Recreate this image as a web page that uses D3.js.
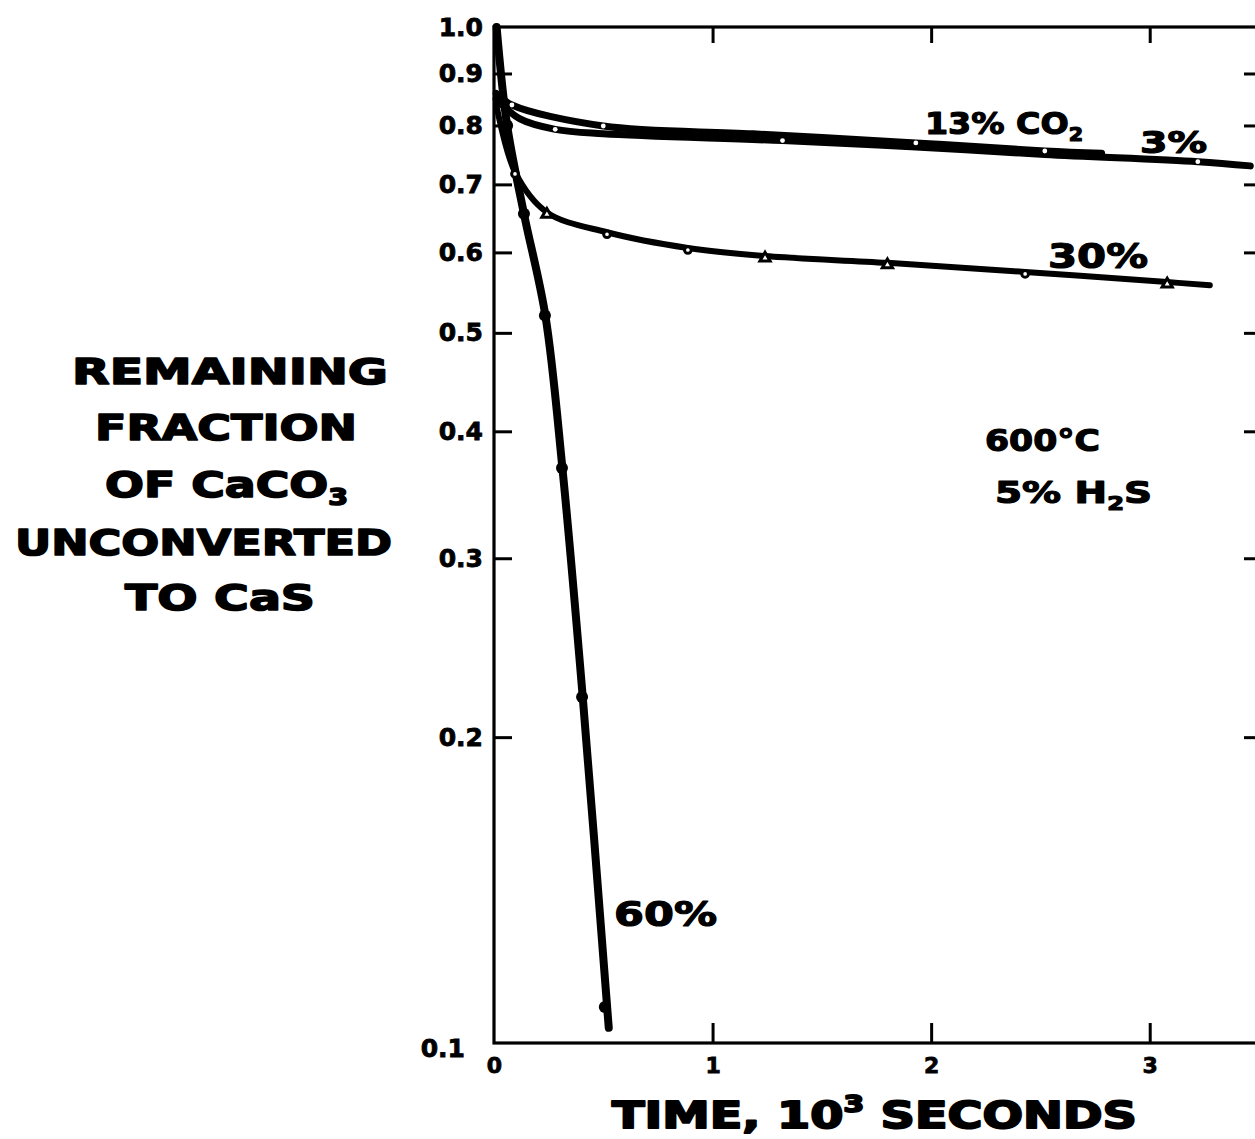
<!DOCTYPE html>
<html>
<head>
<meta charset="utf-8">
<script src="https://cdn.jsdelivr.net/npm/d3@7"></script>
<style>
  html, body { margin: 0; padding: 0; background: #fff; }
  svg { display: block; }
  text { font-family: "DejaVu Sans", sans-serif; font-weight: bold; fill: #000; }
</style>
</head>
<body>
<svg id="chart" width="1255" height="1139"></svg>
<script>
// Sulfidation of CaCO3 at 600 °C in 5% H2S, for several CO2 levels.
// Time in 10^3 s, remaining fraction of CaCO3 (log scale).

// 60% CO2 - measured points and fitted curve
const pts60T = [0.06, 0.137, 0.233, 0.311, 0.403, 0.507];
const pts60F = [0.80, 0.655, 0.52, 0.368, 0.219, 0.1085];
const fit60T = [0.012, 0.06, 0.137, 0.235, 0.313, 0.406, 0.525];
const fit60F = [1.0, 0.80, 0.655, 0.52, 0.368, 0.219, 0.1035];

// 30% CO2
const pts30T = [0.096, 0.242, 0.517, 0.887, 1.24, 1.80, 2.43, 3.08];
const pts30F = [0.72, 0.657, 0.628, 0.606, 0.595, 0.586, 0.574, 0.561];
const pts30Shape = ["circle", "triangle", "circle", "circle", "triangle", "triangle", "circle", "triangle"];
const fit30T = [0.01, 0.096, 0.242, 0.517, 0.887, 1.24, 1.80, 2.43, 3.08, 3.275];
const fit30F = [0.84, 0.72, 0.657, 0.628, 0.606, 0.595, 0.586, 0.574, 0.561, 0.557];

// 13% CO2
const pts13T = [0.082, 0.5, 1.93, 2.52];
const pts13F = [0.838, 0.799, 0.769, 0.755];
const fit13T = [0.01, 0.082, 0.5, 1.185, 1.93, 2.52, 2.78];
const fit13F = [0.86, 0.838, 0.799, 0.785, 0.769, 0.755, 0.751];

// 3% CO2
const pts3T = [0.28, 1.32, 3.22];
const pts3F = [0.793, 0.773, 0.737];
const fit3T = [0.01, 0.119, 0.28, 0.5, 1.32, 1.93, 2.52, 3.22, 3.46];
const fit3F = [0.85, 0.812, 0.793, 0.785, 0.773, 0.762, 0.749, 0.737, 0.730];

// Axis ticks
const yTickValues = [1.0, 0.9, 0.8, 0.7, 0.6, 0.5, 0.4, 0.3, 0.2, 0.1];
const yTickLabels = ["1.0", "0.9", "0.8", "0.7", "0.6", "0.5", "0.4", "0.3", "0.2", "0.1"];
const yMarkTicks = [0.9, 0.8, 0.7, 0.6, 0.5, 0.4, 0.3, 0.2];
const xTickValues = [0, 1, 2, 3];
const xTickLabels = ["0", "1", "2", "3"];

const svg = d3.select("#chart");

const x = d3.scaleLinear().domain([0, 3.5]).range([494, 1259]);
const y = d3.scaleLog().domain([0.1, 1]).range([1043, 27]);

const zip = (ts, fs) => ts.map((t, i) => ({ t, f: fs[i] }));

// ---- frame and axes ----
svg.append("rect")
  .attr("x", x(0)).attr("y", y(1))
  .attr("width", x(3.5) - x(0)).attr("height", y(0.1) - y(1))
  .attr("fill", "none").attr("stroke", "#000").attr("stroke-width", 3.2);

// left: inward ticks, labels outside
const yAxis = d3.axisLeft(y)
  .tickValues(yTickValues)
  .tickFormat((d, i) => yTickLabels[i])
  .tickSize(-18).tickSizeOuter(0).tickPadding(11);
const gy = svg.append("g").attr("transform", `translate(${x(0)},0)`).call(yAxis);
gy.select(".domain").remove();
gy.selectAll(".tick line").attr("stroke-width", 3)
  .attr("display", d => yMarkTicks.includes(d) ? null : "none");
gy.selectAll(".tick text").attr("font-size", 25)
  .attr("font-family", "DejaVu Sans").attr("font-weight", "bold")
  .attr("stroke", "#000").attr("stroke-width", 0.8);
gy.selectAll(".tick").filter(d => d === 0.1).select("text")
  .attr("dx", -18).attr("dy", "0.55em");

// right: inward ticks only
const yAxisR = d3.axisRight(y).tickValues(yMarkTicks).tickFormat("")
  .tickSize(-15).tickSizeOuter(0);
const gyr = svg.append("g").attr("transform", `translate(${x(3.5)},0)`).call(yAxisR);
gyr.select(".domain").remove();
gyr.selectAll(".tick line").attr("stroke-width", 3);

// bottom: upward ticks, labels below
const xAxis = d3.axisBottom(x)
  .tickValues(xTickValues)
  .tickFormat((d, i) => xTickLabels[i])
  .tickSize(-20).tickSizeOuter(0).tickPadding(14);
const gx = svg.append("g").attr("transform", `translate(0,${y(0.1)})`).call(xAxis);
gx.select(".domain").remove();
gx.selectAll(".tick line").attr("stroke-width", 3)
  .attr("display", d => d === 0 ? "none" : null);
gx.selectAll(".tick text").attr("font-size", 22)
  .attr("font-family", "DejaVu Sans").attr("font-weight", "bold")
  .attr("stroke", "#000").attr("stroke-width", 0.8);

// top: downward ticks only
const xAxisT = d3.axisTop(x).tickValues([1, 2, 3]).tickFormat("")
  .tickSize(-16).tickSizeOuter(0);
const gxt = svg.append("g").attr("transform", `translate(0,${y(1)})`).call(xAxisT);
gxt.select(".domain").remove();
gxt.selectAll(".tick line").attr("stroke-width", 3);

// ---- curves ----
const line = d3.line().x(d => x(d.t)).y(d => y(d.f)).curve(d3.curveCatmullRom.alpha(0.5));
const curves = [
  { data: zip(fit3T, fit3F), w: 7 },
  { data: zip(fit13T, fit13F), w: 7 },
  { data: zip(fit30T, fit30F), w: 6 },
  { data: zip(fit60T, fit60F), w: 8 }
];
svg.append("g").selectAll("path").data(curves).join("path")
  .attr("d", d => line(d.data))
  .attr("fill", "none").attr("stroke", "#000")
  .attr("stroke-width", d => d.w)
  .attr("stroke-linecap", "round").attr("stroke-linejoin", "round");

// ---- markers ----
const mk = svg.append("g");
// open circles (13% and 3%), small holes in the heavy line
mk.selectAll("circle.open")
  .data(zip(pts13T, pts13F).concat(zip(pts3T, pts3F)))
  .join("circle").attr("class", "open")
  .attr("cx", d => x(d.t)).attr("cy", d => y(d.f))
  .attr("r", 2.4).attr("fill", "#fff");

// 30%: mixed open circles and triangles
const p30 = zip(pts30T, pts30F).map((d, i) => ({ ...d, shape: pts30Shape[i] }));
mk.selectAll("path.m30").data(p30).join("path").attr("class", "m30")
  .attr("transform", d => `translate(${x(d.t)},${y(d.f) + 2})`)
  .attr("d", d => d3.symbol(d.shape === "triangle" ? d3.symbolTriangle : d3.symbolCircle,
                           d.shape === "triangle" ? 45 : 35)())
  .attr("fill", "#fff").attr("stroke", "#000").attr("stroke-width", 3);

// 60%: filled circles
mk.selectAll("circle.filled").data(zip(pts60T, pts60F)).join("circle").attr("class", "filled")
  .attr("cx", d => x(d.t)).attr("cy", d => y(d.f))
  .attr("r", 6).attr("fill", "#000");

// ---- annotations ----
function label(g, xp, yp, parts, size, opts = {}) {
  const t = g.append("text").attr("x", xp).attr("y", yp).attr("font-size", size)
    .attr("text-anchor", opts.anchor || "start")
    .attr("stroke", "#000").attr("stroke-width", opts.sw || 1.2)
    .attr("stroke-linejoin", "round");
  if (opts.len) t.attr("textLength", opts.len).attr("lengthAdjust", "spacingAndGlyphs");
  parts.forEach(p => {
    const s = t.append("tspan").text(p.s);
    if (p.sub) s.attr("font-size", size * 0.62).attr("dy", size * 0.22);
    if (p.sup) s.attr("font-size", size * 0.62).attr("dy", -size * 0.42);
    if (p.back) s.attr("dy", p.back);
  });
  return t;
}

const ann = svg.append("g");
label(ann, 925, 134, [{ s: "13% CO" }, { s: "2", sub: true }], 30, { len: 158 });
label(ann, 1140, 153, [{ s: "3%" }], 30, { len: 67 });
label(ann, 1048, 268, [{ s: "30%" }], 34, { len: 100 });
label(ann, 614, 926, [{ s: "60%" }], 34, { len: 103 });
label(ann, 985, 451, [{ s: "600°C" }], 30, { len: 115 });
label(ann, 995, 503, [{ s: "5% H" }, { s: "2", sub: true }, { s: "S", back: -30 * 0.22 }], 30, { len: 157 });

// axis titles
const yt = svg.append("g");
label(yt, 72, 384, [{ s: "REMAINING" }], 36, { len: 316, sw: 1.6 });
label(yt, 95, 440, [{ s: "FRACTION" }], 36, { len: 262, sw: 1.6 });
label(yt, 105, 497, [{ s: "OF CaCO" }, { s: "3", sub: true }], 36, { len: 243, sw: 1.6 });
label(yt, 15, 555, [{ s: "UNCONVERTED" }], 36, { len: 377, sw: 1.6 });
label(yt, 125, 610, [{ s: "TO CaS" }], 36, { len: 190, sw: 1.6 });

label(svg.append("g"), 612, 1128,
  [{ s: "TIME, 10" }, { s: "3", sup: true }, { s: " SECONDS", back: 38 * 0.42 }], 38,
  { len: 525, sw: 2 });
</script>
</body>
</html>
